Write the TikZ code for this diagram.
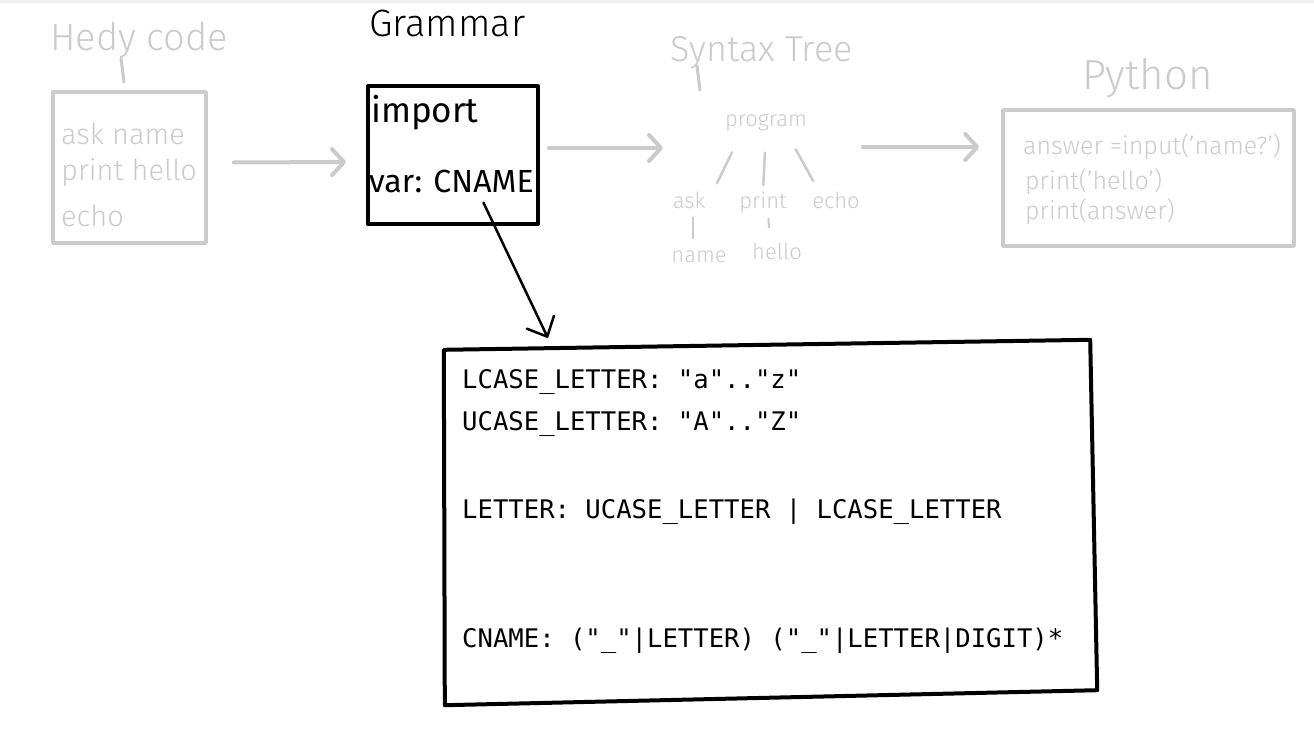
\documentclass[tikz,border=0pt]{standalone}
\usepackage{fontspec}
\setmainfont{Fira Sans}[UprightFont=* Light]
\newfontfamily\inkfont{Fira Sans}
\newfontfamily\codefont{DejaVu Sans Mono}
\usetikzlibrary{arrows.meta}
\definecolor{faded}{HTML}{CBCBCB}
\definecolor{topband}{HTML}{F0F0F0}
\tikzset{
  hand/.style={inner sep=0pt, font=\fontsize{#1}{#1}\selectfont},
  inkhand/.style={inner sep=0pt, font=\inkfont\fontsize{#1}{#1}\selectfont},
  code/.style={inner sep=0pt, font=\codefont\fontsize{25.6}{25.6}\selectfont},
  fadedbox/.style={draw=faded, line width=3.5pt, line join=round, inner sep=0pt},
  inkbox/.style={draw=black, line width=4pt, line join=round, inner sep=0pt},
  gline/.style={draw=faded, line width=2.5pt, line cap=round},
  garrow/.style={draw=faded, line width=4pt, line cap=round,
    -{Straight Barb[length=12pt,width=26pt,round]}},
  barrow/.style={draw=black, line width=2.5pt, line cap=round,
    -{Straight Barb[length=16pt,width=30pt,round]}},
}
\begin{document}
\begin{tikzpicture}[x=1pt,y=-1pt]
\useasboundingbox (0,0) rectangle (1314,741);
\fill[white] (0,0) rectangle (1314,741);
\fill[topband] (0,0) rectangle (1314,3);

% --- Hedy code ---
\node[hand=38, text=faded, anchor=base west] (hedyT) at (50,51) {Hedy code};
\draw[gline, line width=3pt] (121,58) -- (124,82);
\node[fadedbox, minimum width=153pt, minimum height=151pt] (hedy) at (129.5,167.5) {};
\node[hand=29, text=faded, anchor=base west] (h1) at (61,145) {ask name};
\node[hand=29, text=faded, anchor=base west] (h2) at (61,180) {print hello};
\node[hand=29, text=faded, anchor=base west] (h3) at (61,226) {echo};

% --- Grammar ---
\node[hand=38, anchor=base west] (gramT) at (369,37) {Grammar};
\node[inkbox, minimum width=170pt, minimum height=138pt] (gram) at (453,155) {};
\node[inkhand=35, anchor=base west] (imp) at (371,123) {import};
\node[inkhand=32, anchor=base west] (var) at (369,192) {var: CNAME};

% --- Syntax tree ---
\node[hand=36, text=faded, anchor=base west] (treeT) at (670,62) {Syntax Tree};
\draw[gline, line width=3pt] (697,66) -- (700,90);
\node[hand=22, text=faded, anchor=base] (prog) at (766,127) {program};
\node[hand=22, text=faded, anchor=base] (ask) at (689,208) {ask};
\node[hand=22, text=faded, anchor=base] (print) at (763,208) {print};
\node[hand=22, text=faded, anchor=base] (echo) at (836,208) {echo};
\node[hand=22, text=faded, anchor=base] (name) at (699,262) {name};
\node[hand=22, text=faded, anchor=base] (hello) at (777,259) {hello};
\draw[gline, shorten <=23pt, shorten >=9pt] ([xshift=-24pt]prog.south) -- ([xshift=24pt]ask.north);
\draw[gline, shorten <=21pt, shorten >=6pt] (prog.south) -- (print.north);
\draw[gline, shorten <=20pt, shorten >=12pt] ([xshift=20pt]prog.south) -- ([xshift=-17pt]echo.north);
\draw[gline, shorten <=9pt, shorten >=12pt] ([xshift=4pt]ask.south) -- ([xshift=-6pt]name.north);
\draw[gline, line width=2pt, shorten <=6pt, shorten >=15pt] ([xshift=5pt]print.south) -- ([xshift=-7pt]hello.north);
\coordinate (treeIn) at (663,148);
\coordinate (treeOut) at (863,147);

% --- Python ---
\node[hand=42, text=faded, anchor=base west] (pyT) at (1082,90) {Python};
\node[fadedbox, minimum width=291pt, minimum height=136pt] (py) at (1148.5,178) {};
\node[hand=25, text=faded, anchor=base west] (p1) at (1023,154) {answer =input('name?')};
\node[hand=25, text=faded, anchor=base west] (p2) at (1025,189) {print('hello')};
\node[hand=25, text=faded, anchor=base west] (p3) at (1025,219) {print(answer)};

% --- pipeline arrows ---
\draw[garrow] ([xshift=26pt,yshift=5pt]hedy.east) -- ([xshift=-20pt,yshift=-7pt]gram.west);
\draw[garrow] ([xshift=9pt,yshift=7pt]gram.east) -- (treeIn);
\draw[garrow] (treeOut) -- ([xshift=-22pt,yshift=31pt]py.west);

% --- CNAME rules ---
\node[minimum width=649pt, minimum height=352pt, inner sep=0pt] (rules) at (768.5,521) {};
\draw[black, line width=4pt, line join=round]
  ([yshift=-5pt]rules.north west) -- ([xshift=-3pt,yshift=5pt]rules.north east)
  -- ([xshift=4pt,yshift=7pt]rules.south east) -- ([xshift=1pt,yshift=-8pt]rules.south west) -- cycle;
\node[code, anchor=base west] (r1) at (462,388) {LCASE\_LETTER: "a".."z"};
\node[code, anchor=base west] (r2) at (462,430) {UCASE\_LETTER: "A".."Z"};
\node[code, anchor=base west] (r3) at (462,518) {LETTER: UCASE\_LETTER | LCASE\_LETTER};
\node[code, anchor=base west] (r4) at (462,647) {CNAME: ("\_"|LETTER) ("\_"|LETTER|DIGIT)*};

\draw[barrow] ([xshift=32pt,yshift=-10pt]var.south) -- ([xshift=104pt,yshift=7pt]rules.north west);
\end{tikzpicture}
\end{document}
